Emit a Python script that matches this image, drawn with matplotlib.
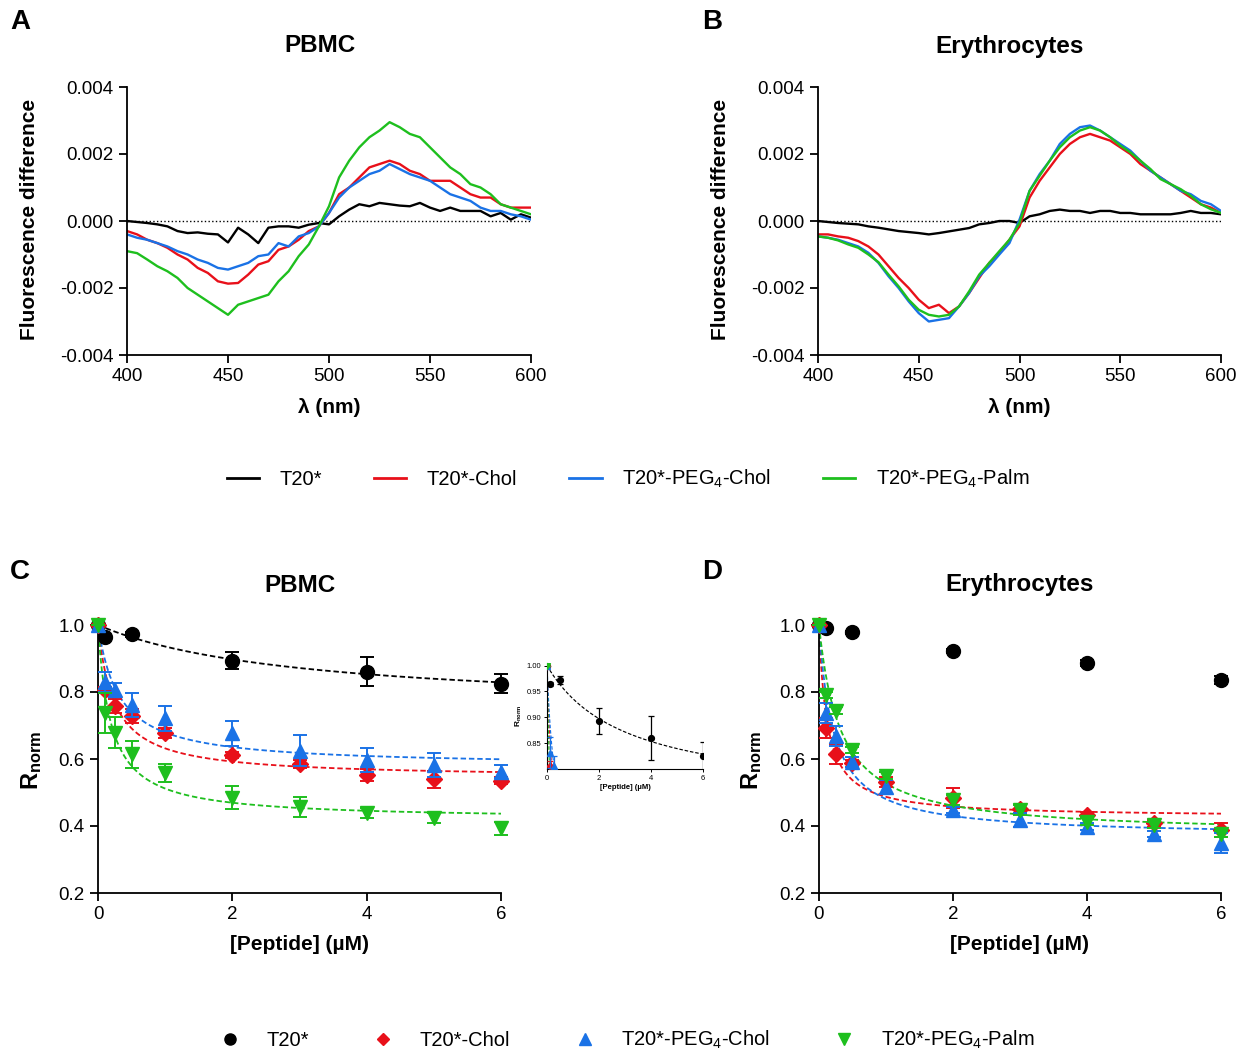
import numpy as np
import matplotlib
matplotlib.use("Agg")
import matplotlib.pyplot as plt
from matplotlib.lines import Line2D

plt.rcParams['font.family'] = ['Liberation Sans', 'DejaVu Sans']
plt.rcParams['axes.unicode_minus'] = False
plt.rcParams['mathtext.fontset'] = 'custom'
plt.rcParams['mathtext.rm'] = 'Liberation Sans'
plt.rcParams['mathtext.bf'] = 'Liberation Sans:bold'
plt.rcParams['mathtext.it'] = 'Liberation Sans:italic'

# ---------------- data ----------------
series_names = ['T20*', 'T20*-Chol', 'T20*-PEG$_4$-Chol', 'T20*-PEG$_4$-Palm']
colors = ['#000000', '#e8101a', '#1a72e6', '#1ebf1e']

wavelength = [400, 405, 410, 415, 420, 425, 430, 435, 440, 445, 450, 455, 460, 465, 470,
              475, 480, 485, 490, 495, 500, 505, 510, 515, 520, 525, 530, 535, 540, 545,
              550, 555, 560, 565, 570, 575, 580, 585, 590, 595, 600]

# Panel A (PBMC), fluorescence difference in units of 1e-3
pbmc_t20 = [0.0, -0.03, -0.06, -0.10, -0.16, -0.30, -0.36, -0.34, -0.38, -0.40, -0.64, -0.20,
            -0.40, -0.66, -0.20, -0.16, -0.16, -0.20, -0.11, -0.06, -0.10, 0.14, 0.34, 0.50,
            0.44, 0.54, 0.50, 0.46, 0.44, 0.54, 0.40, 0.30, 0.40, 0.30, 0.30, 0.30, 0.14,
            0.24, 0.04, 0.20, 0.10]
pbmc_chol = [-0.30, -0.40, -0.56, -0.66, -0.80, -1.00, -1.15, -1.40, -1.55, -1.80, -1.87,
             -1.85, -1.60, -1.30, -1.20, -0.86, -0.76, -0.56, -0.30, -0.16, 0.24, 0.80, 1.00,
             1.30, 1.60, 1.70, 1.80, 1.70, 1.50, 1.40, 1.20, 1.20, 1.20, 1.00, 0.80, 0.70,
             0.70, 0.50, 0.40, 0.40, 0.40]
pbmc_peg_chol = [-0.40, -0.50, -0.56, -0.66, -0.76, -0.90, -1.00, -1.15, -1.25, -1.40, -1.45,
                 -1.35, -1.25, -1.05, -1.00, -0.66, -0.76, -0.46, -0.36, -0.16, 0.24, 0.70,
                 1.00, 1.20, 1.40, 1.50, 1.70, 1.55, 1.40, 1.30, 1.20, 1.00, 0.80, 0.70, 0.60,
                 0.40, 0.30, 0.30, 0.20, 0.14, 0.04]
pbmc_peg_palm = [-0.90, -0.96, -1.15, -1.35, -1.50, -1.70, -2.00, -2.20, -2.40, -2.60, -2.80,
                 -2.50, -2.40, -2.30, -2.20, -1.80, -1.50, -1.05, -0.70, -0.16, 0.44, 1.30,
                 1.80, 2.20, 2.50, 2.70, 2.95, 2.80, 2.60, 2.50, 2.20, 1.90, 1.60, 1.40, 1.10,
                 1.00, 0.80, 0.50, 0.40, 0.30, 0.20]

# Panel B (Erythrocytes)
ery_t20 = [0.0, -0.03, -0.06, -0.08, -0.10, -0.16, -0.20, -0.25, -0.30, -0.33, -0.36, -0.40,
           -0.36, -0.31, -0.26, -0.21, -0.10, -0.06, 0.0, 0.0, -0.06, 0.14, 0.20, 0.30, 0.34,
           0.30, 0.30, 0.24, 0.30, 0.30, 0.24, 0.24, 0.20, 0.20, 0.20, 0.20, 0.24, 0.30,
           0.24, 0.24, 0.20]
ery_chol = [-0.40, -0.40, -0.46, -0.50, -0.60, -0.76, -1.00, -1.35, -1.70, -2.00, -2.35,
            -2.60, -2.50, -2.75, -2.55, -2.15, -1.70, -1.25, -0.95, -0.56, -0.16, 0.70, 1.20,
            1.60, 2.00, 2.30, 2.50, 2.60, 2.50, 2.40, 2.20, 2.00, 1.70, 1.50, 1.30, 1.10,
            0.90, 0.70, 0.50, 0.40, 0.24]
ery_peg_chol = [-0.46, -0.50, -0.56, -0.66, -0.76, -0.95, -1.25, -1.65, -2.00, -2.40, -2.75,
                -3.00, -2.95, -2.90, -2.55, -2.15, -1.65, -1.35, -1.00, -0.66, 0.04, 0.90,
                1.40, 1.80, 2.30, 2.60, 2.80, 2.85, 2.70, 2.50, 2.30, 2.10, 1.80, 1.50, 1.30,
                1.10, 0.90, 0.80, 0.60, 0.50, 0.30]
ery_peg_palm = [-0.46, -0.50, -0.58, -0.70, -0.80, -1.00, -1.23, -1.60, -1.95, -2.35, -2.65,
                -2.80, -2.85, -2.80, -2.55, -2.10, -1.60, -1.25, -0.90, -0.56, -0.06, 0.90,
                1.35, 1.80, 2.20, 2.50, 2.70, 2.80, 2.70, 2.50, 2.25, 2.05, 1.80, 1.55, 1.25,
                1.10, 0.95, 0.75, 0.50, 0.35, 0.24]

# Panels C/D: normalized R vs peptide concentration
conc = [0, 0.1, 0.25, 0.5, 1, 2, 3, 4, 5, 6]
conc_t20 = [0, 0.1, 0.5, 2, 4, 6]

pbmc_r_t20 = [1.0, 0.964, 0.972, 0.893, 0.860, 0.825]
pbmc_e_t20 = [0.0, 0.004, 0.008, 0.025, 0.043, 0.028]
pbmc_r_chol = [1.0, 0.806, 0.758, 0.728, 0.679, 0.612, 0.585, 0.552, 0.539, 0.535]
pbmc_e_chol = [0.0, 0.010, 0.022, 0.022, 0.015, 0.010, 0.012, 0.018, 0.025, 0.010]
pbmc_r_pegchol = [1.0, 0.831, 0.806, 0.761, 0.721, 0.677, 0.625, 0.597, 0.582, 0.562]
pbmc_e_pegchol = [0.0, 0.030, 0.020, 0.036, 0.036, 0.037, 0.046, 0.036, 0.035, 0.020]
pbmc_r_pegpalm = [1.0, 0.737, 0.679, 0.614, 0.557, 0.484, 0.458, 0.440, 0.423, 0.393]
pbmc_e_pegpalm = [0.0, 0.060, 0.047, 0.040, 0.027, 0.034, 0.030, 0.015, 0.015, 0.020]

ery_r_t20 = [1.0, 0.990, 0.978, 0.922, 0.887, 0.836]
ery_e_t20 = [0.0, 0.005, 0.005, 0.005, 0.010, 0.012]
ery_r_chol = [1.0, 0.692, 0.615, 0.587, 0.532, 0.483, 0.450, 0.433, 0.408, 0.388]
ery_e_chol = [0.0, 0.030, 0.030, 0.010, 0.015, 0.030, 0.012, 0.010, 0.010, 0.020]
ery_r_pegchol = [1.0, 0.736, 0.669, 0.592, 0.517, 0.448, 0.418, 0.398, 0.376, 0.348]
ery_e_pegchol = [0.0, 0.030, 0.030, 0.015, 0.020, 0.010, 0.020, 0.010, 0.010, 0.030]
ery_r_pegpalm = [1.0, 0.791, 0.744, 0.627, 0.550, 0.478, 0.448, 0.413, 0.403, 0.376]
ery_e_pegpalm = [0.0, 0.010, 0.010, 0.010, 0.010, 0.015, 0.015, 0.010, 0.010, 0.010]

markers = ['o', 'D', '^', 'v']
msizes = [10, 8, 10, 10]

# ---------------- helpers ----------------
def fit_hyperbola(x, y):
    """Fit R = 1 - A*x/(K+x) by grid search on K, least squares on A."""
    x = np.asarray(x, float); y = np.asarray(y, float)
    best = None
    for K in np.linspace(0.01, 10, 2000):
        g = x / (K + x)
        A = np.sum(g * (1 - y)) / np.sum(g * g)
        err = np.sum((1 - A * g - y) ** 2)
        if best is None or err < best[0]:
            best = (err, A, K)
    return best[1], best[2]

def style_axes(ax):
    for s in ['top', 'right']:
        ax.spines[s].set_visible(False)
    for s in ['left', 'bottom']:
        ax.spines[s].set_linewidth(1.3)
    ax.tick_params(direction='out', width=1.3, length=6, labelsize=13.5)

W, H = 1247, 1052
fig = plt.figure(figsize=(W / 100, H / 100), dpi=100)

def px_axes(l, t, r, b):
    return fig.add_axes([l / W, 1 - b / H, (r - l) / W, (b - t) / H])

# ---------------- panels A, B ----------------
spectra = [
    (px_axes(127, 87, 531, 355), 'PBMC', [pbmc_t20, pbmc_chol, pbmc_peg_chol, pbmc_peg_palm], 320, 30),
    (px_axes(818, 87, 1221, 355), 'Erythrocytes', [ery_t20, ery_chol, ery_peg_chol, ery_peg_palm], 1010, 720),
]
for ax, title, data, tx, ylx in spectra:
    ax.axhline(0, color='black', ls=':', lw=1.0, zorder=1)
    for vals, c in zip(data, colors):
        ax.plot(wavelength, np.asarray(vals) * 1e-3, color=c, lw=1.7, zorder=2)
    ax.set_xlim(400, 600)
    ax.set_ylim(-0.004, 0.004)
    ax.set_xticks([400, 450, 500, 550, 600])
    ax.set_yticks([-0.004, -0.002, 0.0, 0.002, 0.004])
    ax.set_yticklabels(['-0.004', '-0.002', '0.000', '0.002', '0.004'])
    style_axes(ax)
    fig.text(tx / W, 1 - 46 / H, title, ha='center', va='center', fontsize=17.5, fontweight='bold')
    fig.text(ylx / W, 1 - 219 / H, 'Fluorescence difference', rotation=90, ha='center',
             va='center', fontsize=15, fontweight='bold')
    xc = (ax.get_position().x0 + ax.get_position().x1) / 2
    fig.text(xc, 1 - 407 / H, 'λ (nm)', ha='center', va='center', fontsize=15, fontweight='bold')

handles_top = [Line2D([], [], color=c, lw=2) for c in colors]
fig.legend(handles_top, series_names, loc='center', bbox_to_anchor=(628 / W, 1 - 479 / H),
           ncol=4, frameon=False, fontsize=14.5, handlelength=1.6, columnspacing=2.6,
           handletextpad=1.0)

# ---------------- panels C, D ----------------
def binding_panel(ax, rt20, et20, rest, errs, fit_t20, inset=False, ms_scale=1.0):
    series = [(conc_t20, rt20, et20)] + [(conc, r, e) for r, e in zip(rest, errs)]
    xfine = np.linspace(0, 6, 400)
    for i, ((x, r, e), c) in enumerate(zip(series, colors)):
        if i > 0 or fit_t20:
            A, K = fit_hyperbola(x, r)
            ax.plot(xfine, 1 - A * xfine / (K + xfine), ls=(0, (3, 1.6)), color=c,
                    lw=1.3 * ms_scale ** 0.5, zorder=2)
        ax.errorbar(x, r, yerr=e, fmt=markers[i], color=c, ms=msizes[i] * ms_scale,
                    capsize=5 * ms_scale, elinewidth=1.4 * ms_scale ** 0.5,
                    capthick=1.4 * ms_scale ** 0.5, zorder=3 + i, clip_on=inset)
    ax.set_xlim(0, 6)
    ax.set_xticks([0, 2, 4, 6])

axC = px_axes(98, 625, 501, 893)
binding_panel(axC, pbmc_r_t20, pbmc_e_t20,
              [pbmc_r_chol, pbmc_r_pegchol, pbmc_r_pegpalm],
              [pbmc_e_chol, pbmc_e_pegchol, pbmc_e_pegpalm], True)
axD = px_axes(819, 625, 1221, 893)
binding_panel(axD, ery_r_t20, ery_e_t20,
              [ery_r_chol, ery_r_pegchol, ery_r_pegpalm],
              [ery_e_chol, ery_e_pegchol, ery_e_pegpalm], False)
for ax, title, tx, ylx in [(axC, 'PBMC', 300, 32), (axD, 'Erythrocytes', 1020, 752)]:
    ax.set_ylim(0.2, 1.0)
    ax.set_yticks([0.2, 0.4, 0.6, 0.8, 1.0])
    ax.set_yticklabels(['0.2', '0.4', '0.6', '0.8', '1.0'])
    style_axes(ax)
    fig.text(tx / W, 1 - 585 / H, title, ha='center', va='center', fontsize=17.5, fontweight='bold')
    fig.text(ylx / W, 1 - 760 / H, r'$\mathbf{R_{norm}}$', rotation=90, ha='center',
             va='center', fontsize=17)
    xc = (ax.get_position().x0 + ax.get_position().x1) / 2
    fig.text(xc, 1 - 944 / H, '[Peptide] (µM)', ha='center', va='center', fontsize=15,
             fontweight='bold')

# inset in C
axI = px_axes(547, 663, 703, 769)
binding_panel(axI, pbmc_r_t20, pbmc_e_t20,
              [pbmc_r_chol, pbmc_r_pegchol, pbmc_r_pegpalm],
              [pbmc_e_chol, pbmc_e_pegchol, pbmc_e_pegpalm], True, inset=True, ms_scale=0.42)
axI.set_ylim(0.80, 1.005)
axI.set_yticks([0.85, 0.90, 0.95, 1.00])
axI.set_yticklabels(['0.85', '0.90', '0.95', '1.00'])
for s in ['top', 'right']:
    axI.spines[s].set_visible(False)
for s in ['left', 'bottom']:
    axI.spines[s].set_linewidth(0.8)
axI.tick_params(direction='out', width=0.7, length=2.5, labelsize=5.5, pad=1.5)
axI.set_xlabel('[Peptide] (µM)', fontsize=5.5, fontweight='bold', labelpad=1.5)
axI.set_ylabel(r'$\mathbf{R_{norm}}$', fontsize=6, labelpad=2)

handles_bot = [Line2D([], [], color=c, marker=m, ls='none', ms=ms * 0.8)
               for c, m, ms in zip(colors, markers, msizes)]
fig.legend(handles_bot, series_names, loc='center', bbox_to_anchor=(624 / W, 1 - 1040 / H),
           ncol=4, frameon=False, fontsize=14.5, handlelength=1.6, columnspacing=2.9,
           handletextpad=1.0)

# panel letters
for letter, x, y in [('A', 20, 22), ('B', 712, 22), ('C', 20, 572), ('D', 712, 572)]:
    fig.text(x / W, 1 - y / H, letter, ha='center', va='center', fontsize=20, fontweight='bold')

fig.savefig('out.png', dpi=100)
